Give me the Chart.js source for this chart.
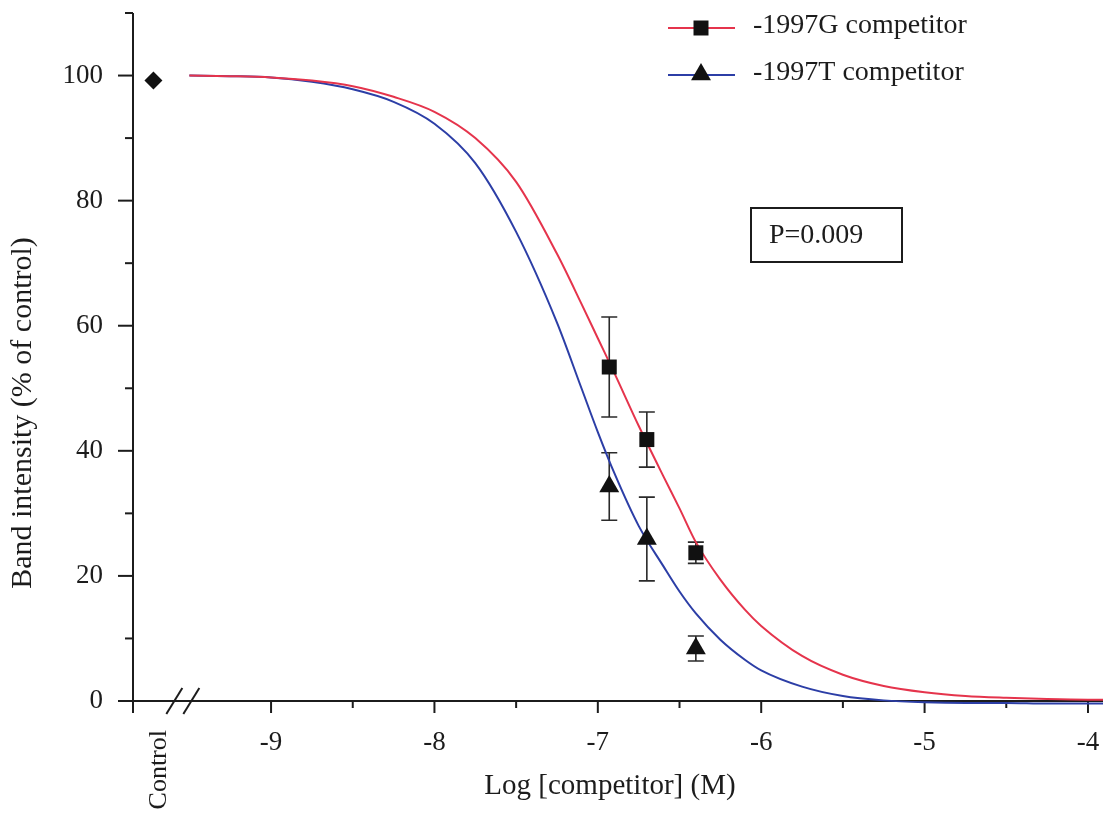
<!DOCTYPE html>
<html>
<head>
<meta charset="utf-8">
<script src="https://cdn.jsdelivr.net/npm/chart.js@4.4.0/dist/chart.umd.min.js"></script>
<style>
  html, body { margin: 0; padding: 0; background: #fff; }
  #wrap { width: 1103px; height: 817px; position: relative; }
</style>
</head>
<body>
<div id="wrap"><canvas id="competition-chart"></canvas></div>
<script>
// fitted competition curves (x = log molar)
const curveX = [-9.5, -9.25, -9, -8.75, -8.5, -8.25, -8, -7.75, -7.5, -7.25, -7.1, -7, -6.9, -6.75,
                -6.6, -6.5, -6.4, -6.25, -6.1, -6, -5.75, -5.5, -5.25, -5, -4.75, -4.5, -4.25, -4, -3.9];
const curveG = [100, 99.9, 99.7, 99.2, 98.3, 96.6, 94.2, 90, 83, 71.5, 63.5, 58, 52.5, 44,
                36, 30.8, 25.4, 19.4, 14.6, 12, 7.2, 4.2, 2.4, 1.4, 0.8, 0.5, 0.3, 0.2, 0.2];
const curveT = [100, 99.9, 99.7, 99.0, 97.8, 95.8, 92.3, 86, 75, 60.5, 50, 43, 36.5, 28,
                21.6, 17.5, 14, 9.8, 6.6, 4.9, 2.3, 0.8, 0.1, -0.2, -0.3, -0.3, -0.4, -0.4, -0.4];

// measured points (mean +/- error)
const doseX = [-6.93, -6.7, -6.4];
const meanG = [53.4, 41.8, 23.7];
const errG = [8, 4.4, 1.7];
const meanT = [34.3, 25.9, 8.4];
const errT = [5.4, 6.7, 2.0];

// control lane, shown left of the axis break
const controlX = -9.72;
const controlY = 99.2;
const breakX = -9.54;

const xTicks = [-9, -8, -7, -6, -5, -4];
const xMinor = [-8.5, -7.5, -6.5, -5.5, -4.5];
const yTicks = [0, 20, 40, 60, 80, 100];
const yMinor = [10, 30, 50, 70, 90, 110];

const labels = ['-1997G competitor', '-1997T competitor'];
const red = '#e5344c';
const blue = '#2c3ea6';
const ink = '#1c1c1c';
const serif = '"Liberation Serif", "Times New Roman", serif';

Chart.defaults.font.family = serif;
Chart.defaults.color = ink;

function xy(xs, ys) {
    return xs.map((v, i) => ({x: v, y: ys[i]}));
}

function marker(ctx, style, x, y, r) {
    ctx.beginPath();
    if (style === 'rect') {
        const s = Math.SQRT1_2 * r;
        ctx.rect(x - s, y - s, 2 * s, 2 * s);
    } else if (style === 'triangle') {
        for (let k = 0; k < 3; k++) {
            const a = k * 2 * Math.PI / 3;
            const px = x + Math.sin(a) * r, py = y - Math.cos(a) * r;
            k ? ctx.lineTo(px, py) : ctx.moveTo(px, py);
        }
        ctx.closePath();
    }
    ctx.fill();
}

const extras = {
    id: 'extras',
    beforeDatasetsDraw(chart) {
        const {ctx, chartArea: a, scales: {x, y}} = chart;
        ctx.save();
        ctx.strokeStyle = ink;
        ctx.lineWidth = 2;
        ctx.lineCap = 'butt';

        // y axis; it runs on below zero as the Control tick
        ctx.beginPath();
        ctx.moveTo(a.left, a.top);
        ctx.lineTo(a.left, a.bottom + 12);
        ctx.stroke();
        yTicks.forEach(v => {
            const py = y.getPixelForValue(v);
            ctx.beginPath(); ctx.moveTo(a.left - 15, py); ctx.lineTo(a.left, py); ctx.stroke();
        });
        yMinor.forEach(v => {
            const py = y.getPixelForValue(v);
            ctx.beginPath(); ctx.moveTo(a.left - 8, py); ctx.lineTo(a.left, py); ctx.stroke();
        });

        // x axis
        const y0 = y.getPixelForValue(0);
        ctx.beginPath();
        ctx.moveTo(a.left, y0);
        ctx.lineTo(a.right, y0);
        ctx.stroke();
        xTicks.forEach(v => {
            const px = x.getPixelForValue(v);
            ctx.beginPath(); ctx.moveTo(px, y0); ctx.lineTo(px, y0 + 12); ctx.stroke();
        });
        xMinor.forEach(v => {
            const px = x.getPixelForValue(v);
            ctx.beginPath(); ctx.moveTo(px, y0); ctx.lineTo(px, y0 + 7); ctx.stroke();
        });

        // axis break //
        const bx = x.getPixelForValue(breakX);
        [-8.5, 8.5].forEach(d => {
            ctx.beginPath();
            ctx.moveTo(bx + d - 8, y0 + 13);
            ctx.lineTo(bx + d + 8, y0 - 13);
            ctx.stroke();
        });

        // error bars
        ctx.lineWidth = 1.6;
        ctx.strokeStyle = '#2a2a2a';
        [[meanG, errG], [meanT, errT]].forEach(([m, e]) => {
            doseX.forEach((d, i) => {
                const px = x.getPixelForValue(d);
                const hi = y.getPixelForValue(m[i] + e[i]);
                const lo = y.getPixelForValue(m[i] - e[i]);
                ctx.beginPath();
                ctx.moveTo(px, hi); ctx.lineTo(px, lo);
                ctx.moveTo(px - 8, hi); ctx.lineTo(px + 8, hi);
                ctx.moveTo(px - 8, lo); ctx.lineTo(px + 8, lo);
                ctx.stroke();
            });
        });
        ctx.restore();
    },
    afterDraw(chart) {
        const {ctx, chartArea: a, scales: {x}} = chart;
        ctx.save();
        ctx.fillStyle = ink;

        // axis titles
        ctx.font = '29px ' + serif;
        ctx.textAlign = 'center';
        ctx.textBaseline = 'alphabetic';
        ctx.fillText('Log [competitor] (M)', (a.left + a.right) / 2 - 8, 794);
        ctx.save();
        ctx.font = '30px ' + serif;
        ctx.translate(31, 413);
        ctx.rotate(-Math.PI / 2);
        ctx.fillText('Band intensity (% of control)', 0, 0);
        ctx.restore();

        // Control category label
        ctx.save();
        ctx.font = '26px ' + serif;
        ctx.translate(x.getPixelForValue(controlX) + 6, a.bottom + 29);
        ctx.rotate(-Math.PI / 2);
        ctx.textAlign = 'right';
        ctx.textBaseline = 'middle';
        ctx.fillText('Control', 0, 0);
        ctx.restore();

        // legend, top right inside the plot
        const rows = [[red, 'rect', 10.6, 28, 0], [blue, 'triangle', 11.5, 75, -0.5]];
        rows.forEach(([col, style, r, ly, dy], i) => {
            ctx.strokeStyle = col;
            ctx.lineWidth = 2;
            ctx.beginPath(); ctx.moveTo(668, ly); ctx.lineTo(735, ly); ctx.stroke();
            ctx.fillStyle = '#111';
            marker(ctx, style, 701, ly + dy, r);
            ctx.fillStyle = ink;
            ctx.font = '28px ' + serif;
            ctx.textAlign = 'left';
            ctx.textBaseline = 'middle';
            ctx.fillText(labels[i], 753, ly - 2);
        });

        // P value box
        ctx.strokeStyle = ink;
        ctx.lineWidth = 2;
        ctx.strokeRect(751, 208, 151, 54);
        ctx.textAlign = 'left';
        ctx.fillText('P=0.009', 769, 236);
        ctx.restore();
    }
};

const ctx = document.getElementById('competition-chart');
new Chart(ctx, {
    type: 'scatter',
    data: {
        datasets: [
            {
                label: labels[0],
                data: xy(doseX, meanG),
                pointStyle: 'rect',
                pointRadius: 10.6,
                backgroundColor: '#111',
                borderWidth: 0,
                clip: false
            },
            {
                label: labels[1],
                data: xy(doseX, meanT),
                pointStyle: 'triangle',
                pointRadius: 11.5,
                backgroundColor: '#111',
                borderWidth: 0,
                clip: false
            },
            {
                label: 'Control',
                data: [{x: controlX, y: controlY}],
                pointStyle: 'rectRot',
                pointRadius: 9,
                backgroundColor: '#111',
                borderWidth: 0,
                clip: false
            },
            {
                label: labels[0] + ' fit',
                data: xy(curveX, curveG),
                showLine: true,
                borderColor: red,
                borderWidth: 2,
                pointRadius: 0,
                cubicInterpolationMode: 'monotone',
                clip: 6
            },
            {
                label: labels[1] + ' fit',
                data: xy(curveX, curveT),
                showLine: true,
                borderColor: blue,
                borderWidth: 2,
                pointRadius: 0,
                cubicInterpolationMode: 'monotone',
                clip: 6
            }
        ]
    },
    options: {
        responsive: true,
        maintainAspectRatio: false,
        animation: false,
        layout: {padding: {top: 13, left: 0, right: 0, bottom: 0}, autoPadding: false},
        plugins: {legend: {display: false}, tooltip: {enabled: false}},
        scales: {
            x: {
                type: 'linear',
                min: -9.845,
                max: -3.908,
                afterBuildTicks: s => { s.ticks = xTicks.map(v => ({value: v})); },
                afterFit: s => { s.height = 116; s.paddingLeft = 0; s.paddingRight = 0; },
                border: {display: false},
                grid: {display: true, drawOnChartArea: false, drawTicks: true, tickLength: 22, tickColor: 'rgba(0,0,0,0)'},
                ticks: {font: {size: 27}, color: ink, padding: 4, maxRotation: 0}
            },
            y: {
                min: 0,
                max: 110,
                afterBuildTicks: s => { s.ticks = yTicks.map(v => ({value: v})); },
                afterFit: s => { s.width = 133; s.paddingTop = 0; s.paddingBottom = 0; },
                border: {display: false},
                grid: {display: true, drawOnChartArea: false, drawTicks: true, tickLength: 26, tickColor: 'rgba(0,0,0,0)'},
                ticks: {font: {size: 27}, color: ink, padding: 4}
            }
        }
    },
    plugins: [extras]
});
</script>
</body>
</html>
